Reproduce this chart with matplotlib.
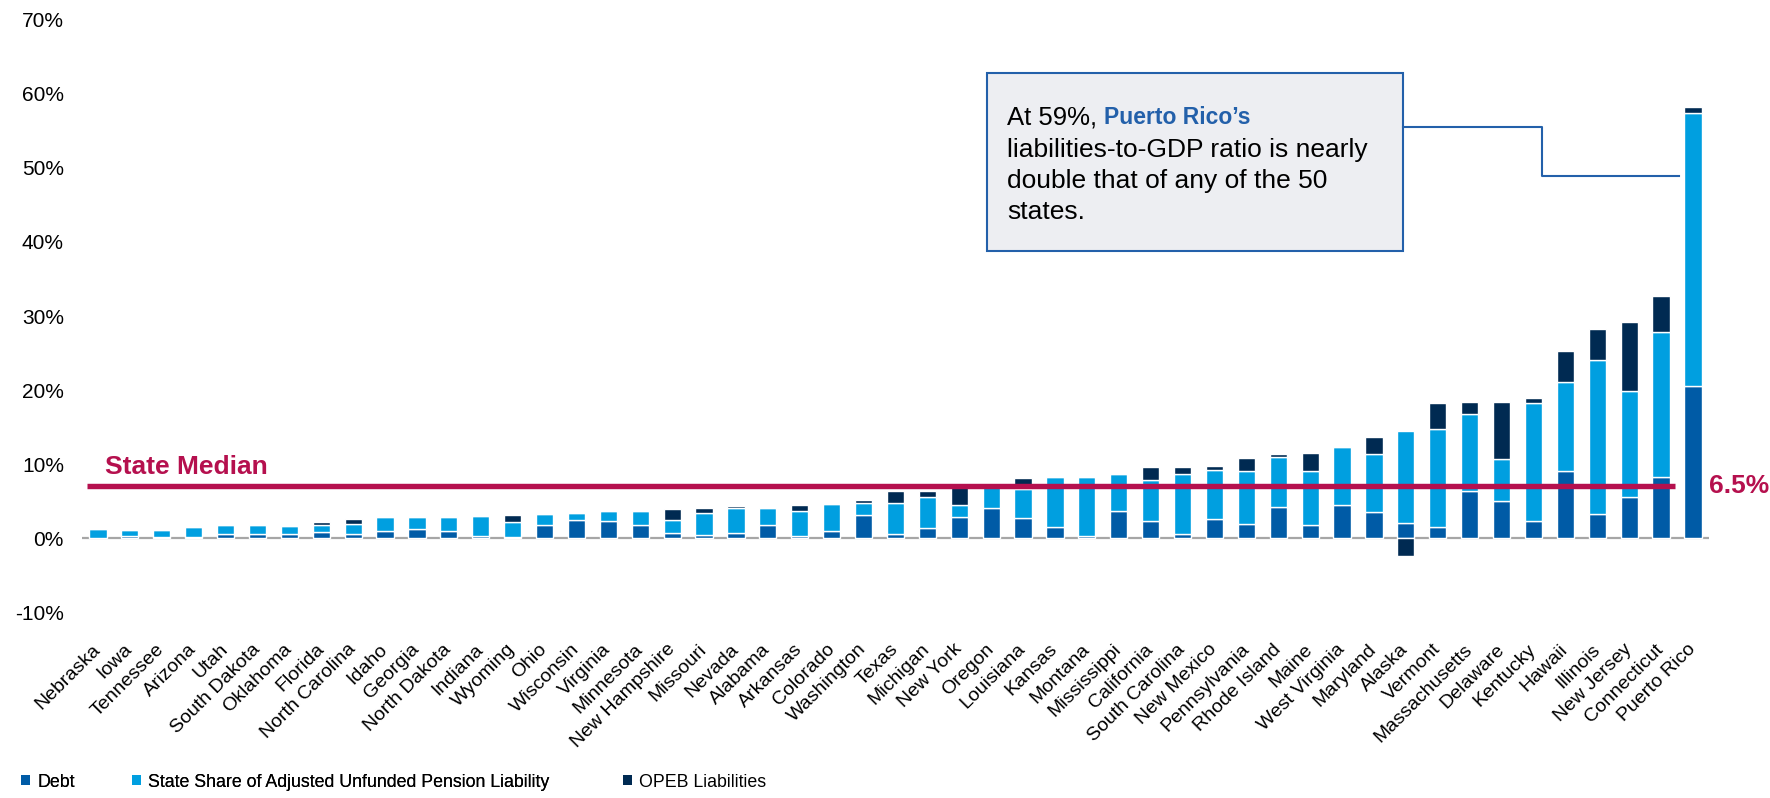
import numpy as np
import matplotlib
matplotlib.use("Agg")
import matplotlib.pyplot as plt
from matplotlib.patches import Rectangle, Patch

plt.rcParams['font.family'] = ['Liberation Sans', 'DejaVu Sans']

# 各州数据（占GDP百分比）
states = ["Nebraska", "Iowa", "Tennessee", "Arizona", "Utah", "South Dakota", "Oklahoma",
          "Florida", "North Carolina", "Idaho", "Georgia", "North Dakota", "Indiana", "Wyoming",
          "Ohio", "Wisconsin", "Virginia", "Minnesota", "New Hampshire", "Missouri", "Nevada",
          "Alabama", "Arkansas", "Colorado", "Washington", "Texas", "Michigan", "New York",
          "Oregon", "Louisiana", "Kansas", "Montana", "Mississippi", "California",
          "South Carolina", "New Mexico", "Pennsylvania", "Rhode Island", "Maine",
          "West Virginia", "Maryland", "Alaska", "Vermont", "Massachusetts", "Delaware",
          "Kentucky", "Hawaii", "Illinois", "New Jersey", "Connecticut", "Puerto Rico"]

debt = [0.05, 0.3, 0.1, 0.2, 0.6, 0.5, 0.5, 0.8, 0.6, 1.0, 1.2, 0.9, 0.3, 0.2,
        1.8, 2.4, 2.3, 1.7, 0.7, 0.4, 0.7, 1.7, 0.3, 0.9, 3.1, 0.5, 1.3, 2.9,
        4.0, 2.7, 1.5, 0.3, 3.6, 2.3, 0.5, 2.6, 1.9, 4.2, 1.8, 4.4, 3.5, 2.0,
        1.5, 6.4, 5.0, 2.3, 9.0, 3.2, 5.5, 8.3, 20.5]

pension = [1.2, 0.8, 1.0, 1.3, 1.1, 1.2, 1.1, 1.0, 1.3, 1.8, 1.7, 1.9, 2.7, 2.0,
           1.5, 1.0, 1.3, 1.9, 1.7, 3.0, 3.3, 2.4, 3.3, 3.7, 1.6, 4.2, 4.3, 1.6,
           3.0, 3.9, 6.8, 8.0, 5.1, 5.5, 8.2, 6.6, 7.1, 6.7, 7.2, 7.9, 7.9, 12.5,
           13.3, 10.4, 5.7, 15.9, 12.1, 20.8, 14.4, 19.5, 36.9]

opeb = [0.0, 0.0, 0.0, 0.0, 0.0, 0.0, 0.0, 0.4, 0.7, 0.0, 0.0, 0.0, 0.0, 0.9,
        0.0, 0.0, 0.0, 0.0, 1.5, 0.6, 0.3, 0.0, 0.8, 0.0, 0.5, 1.6, 0.8, 2.8,
        0.0, 1.5, 0.0, 0.0, 0.0, 1.8, 0.9, 0.5, 1.8, 0.4, 2.5, 0.0, 2.2, -2.4,
        3.4, 1.6, 7.7, 0.7, 4.2, 4.2, 9.3, 4.9, 0.9]

median_level = 7.1
median_label = "6.5%"
yticks = [-10, 0, 10, 20, 30, 40, 50, 60, 70]

c_debt = '#005BA6'
c_pension = '#009FE0'
c_opeb = '#002A52'
c_median = '#B5104E'
c_blue = '#2360AA'

debt = np.array(debt)
pension = np.array(pension)
opeb = np.array(opeb)
x = np.arange(len(states))

fig = plt.figure(figsize=(17.7, 7.98), dpi=100)
ax = fig.add_axes([0.0463, 0.233, 0.9192, 0.742])

ax.axhline(0, color='#A6A6A6', linewidth=1.6, zorder=1)

w = 0.54
ax.bar(x, debt, w, color=c_debt, edgecolor='white', linewidth=1.0, zorder=2, label='Debt')
ax.bar(x, pension, w, bottom=debt, color=c_pension, edgecolor='white', linewidth=1.0,
       zorder=2, label='State Share of Adjusted Unfunded Pension Liability')
opeb_bottom = np.where(opeb < 0, 0, debt + pension)
ax.bar(x, opeb, w, bottom=opeb_bottom, color=c_opeb, edgecolor='white', linewidth=1.0,
       zorder=2, label='OPEB Liabilities')

# 中位数线
ax.plot([-0.35, 49.45], [median_level, median_level], color=c_median, linewidth=3.9,
        solid_capstyle='butt', zorder=3)
ax.text(0.22, 8.7, "State Median", color=c_median, fontsize=19, fontweight='bold',
        va='baseline', ha='left', zorder=4)
ax.text(50.5, 7.0, median_label, color=c_median, fontsize=19, fontweight='bold',
        va='center', ha='left', clip_on=False)

ax.set_xlim(-0.5, 50.5)
ax.set_ylim(-10, 70)
ax.set_yticks(yticks)
ax.set_yticklabels([f"{v}%" for v in yticks], fontsize=15)
ax.set_xticks(x)
ax.set_xticklabels(states, rotation=45, ha='right', va='center', rotation_mode='anchor',
                   fontsize=14)
ax.tick_params(axis='both', length=0)
ax.tick_params(axis='y', pad=13)
ax.tick_params(axis='x', pad=25)
for s in ax.spines.values():
    s.set_visible(False)

# 注释框
ax.add_patch(Rectangle((27.87, 38.85), 40.9 - 27.87, 62.8 - 38.85, facecolor='#EDEEF2',
                       edgecolor=c_blue, linewidth=1.5, zorder=5))
t1 = ax.text(28.5, 55.88, "At 59%, ", fontsize=18.5, va='baseline', ha='left', zorder=6)
ax.annotate("Puerto Rico\u2019s", xy=(1, 0), xycoords=t1, va='bottom', ha='left',
            fontsize=16.5, fontweight='bold', color=c_blue, zorder=6)
for yy, line in zip([51.5, 47.23, 43.04],
                    ["liabilities-to-GDP ratio is nearly", "double that of any of the 50",
                     "states."]):
    ax.text(28.5, yy, line, fontsize=19, va='baseline', ha='left', zorder=6)
ax.plot([40.9, 45.27, 45.27, 49.56], [55.6, 55.6, 48.85, 48.85], color=c_blue,
        linewidth=1.5, zorder=5)

# 图例
h = [Patch(facecolor=c_debt), Patch(facecolor=c_pension), Patch(facecolor=c_opeb)]
lab = ['Debt', 'State Share of Adjusted Unfunded Pension Liability', 'OPEB Liabilities']
leg1 = fig.legend(h[:2], lab[:2], loc='center left', bbox_to_anchor=(0.012, 0.02), ncol=2,
                  frameon=False, fontsize=12.8, handlelength=0.5, handleheight=0.5,
                  handletextpad=0.4, columnspacing=3.2, borderpad=0, borderaxespad=0)
fig.add_artist(leg1)
fig.legend(h[2:], lab[2:], loc='center left', bbox_to_anchor=(0.352, 0.02),
           frameon=False, fontsize=12.8, handlelength=0.5, handleheight=0.5,
           handletextpad=0.4, borderpad=0, borderaxespad=0)

plt.savefig("out.png", dpi=100)
